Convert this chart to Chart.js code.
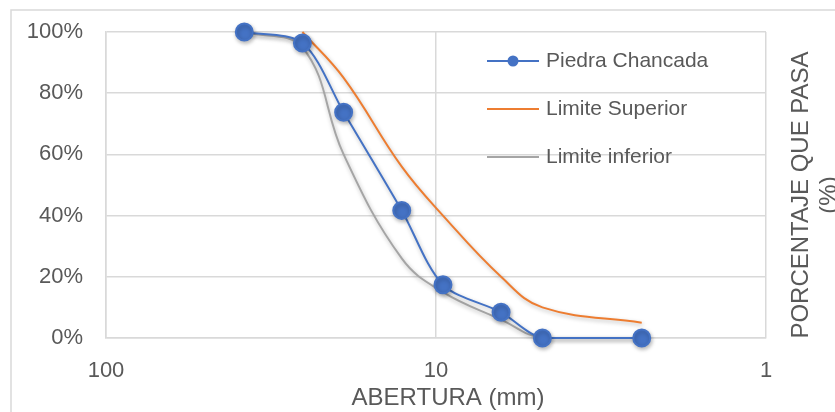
<!DOCTYPE html>
<html>
<head>
<meta charset="utf-8">
<script src="https://cdn.jsdelivr.net/npm/chart.js@4/dist/chart.umd.min.js"></script>
<style>
  body { margin: 0; background: #ffffff; overflow: hidden; }
  #wrap { position: relative; width: 835px; height: 412px; }
</style>
</head>
<body>
<div id="wrap"><canvas id="granuloChart"></canvas></div>
<script>
// Sieve openings (mm) and percent passing
const aberturas = [38.1, 25.4, 19.05, 12.7, 9.525, 6.35, 4.76, 2.38];
const piedraChancada = [100, 96.4, 73.8, 41.7, 17.4, 8.4, 0, 0];
const aberturasSup = [25.4, 19.05, 12.7, 9.525, 6.35, 4.76, 2.38];
const limiteSuperior = [100, 85, 56, 40, 20, 10, 5];
const limiteInferior = [100, 95, 60, 26, 15, 6, 0, 0];
const xTicks = [100, 10, 1];
const yTicks = [0, 20, 40, 60, 80, 100];

const textColor = "#595959";
const gridColor = "#d9d9d9";
const fontFamily = "'Liberation Sans', Arial, sans-serif";

function toPoints(xs, ys) {
  return xs.map((x, i) => ({ x: x, y: ys[i] }));
}

// outer frame, axis titles and in-plot legend
const decorPlugin = {
  id: "decor",
  beforeDraw(chart) {
    const ctx = chart.ctx;
    ctx.save();
    ctx.strokeStyle = gridColor;
    ctx.lineWidth = 1.5;
    ctx.strokeRect(11, 10, 1000, 1000);
    ctx.restore();
  },
  beforeDatasetsDraw(chart) {
    const ctx = chart.ctx;
    ctx.save();
    ctx.shadowColor = "rgba(0,0,0,0.28)";
    ctx.shadowBlur = 4;
    ctx.shadowOffsetX = 1;
    ctx.shadowOffsetY = 2;
  },
  afterDatasetsDraw(chart) {
    chart.ctx.restore();
  },
  afterDraw(chart) {
    const ctx = chart.ctx;
    ctx.save();
    ctx.fillStyle = textColor;
    ctx.font = "24px " + fontFamily;
    ctx.textAlign = "center";
    ctx.textBaseline = "middle";
    ctx.fillText("ABERTURA (mm)", 448, 398);
    ctx.translate(801, 195);
    ctx.rotate(-Math.PI / 2);
    ctx.fillText("PORCENTAJE QUE PASA", 0, 0);
    ctx.fillText("(%)", 0, 28);
    ctx.restore();

    // legend
    ctx.save();
    ctx.font = "21px " + fontFamily;
    ctx.textAlign = "left";
    ctx.textBaseline = "middle";
    chart.data.datasets.forEach((ds, i) => {
      const y = 61 + i * 48;
      ctx.strokeStyle = ds.borderColor;
      ctx.lineWidth = 2;
      ctx.beginPath();
      ctx.moveTo(487, y);
      ctx.lineTo(539, y);
      ctx.stroke();
      if (ds.pointRadius > 0) {
        ctx.fillStyle = ds.pointBackgroundColor;
        ctx.beginPath();
        ctx.arc(513, y, 5.5, 0, Math.PI * 2);
        ctx.fill();
      }
      ctx.fillStyle = textColor;
      ctx.fillText(ds.label, 546, y);
    });
    ctx.restore();
  },
};

const ctx = document.getElementById("granuloChart").getContext("2d");

new Chart(ctx, {
  type: "line",
  data: {
    datasets: [
      {
        label: "Piedra Chancada",
        data: toPoints(aberturas, piedraChancada),
        borderColor: "#4472C4",
        backgroundColor: "#4472C4",
        pointBackgroundColor: "#4472C4",
        pointBorderColor: "#4472C4",
        pointRadius: 8.5,
        borderWidth: 2,
        tension: 0.3,
        clip: false,
        order: 0,
      },
      {
        label: "Limite Superior",
        data: toPoints(aberturasSup, limiteSuperior),
        borderColor: "#ED7D31",
        backgroundColor: "#ED7D31",
        pointRadius: 0,
        borderWidth: 2,
        tension: 0.4,
        clip: false,
        order: 1,
      },
      {
        label: "Limite inferior",
        data: toPoints(aberturas, limiteInferior),
        borderColor: "#A5A5A5",
        backgroundColor: "#A5A5A5",
        pointRadius: 0,
        borderWidth: 2,
        tension: 0.4,
        clip: false,
        order: 2,
      },
    ],
  },
  options: {
    responsive: true,
    maintainAspectRatio: false,
    animation: false,
    layout: { padding: { top: 32, right: 69, bottom: 0, left: 0 } },
    plugins: {
      legend: { display: false },
      tooltip: { enabled: false },
    },
    scales: {
      x: {
        type: "logarithmic",
        min: 1,
        max: 100,
        reverse: true,
        afterBuildTicks: function (scale) {
          scale.ticks = xTicks.map((v) => ({ value: v }));
        },
        afterFit: function (scale) {
          scale.height = 74;
        },
        ticks: {
          color: textColor,
          font: { family: fontFamily, size: 22 },
          padding: 20,
          maxRotation: 0,
          callback: function (value) {
            return String(value);
          },
        },
        grid: { color: gridColor, lineWidth: 1.5, drawTicks: false },
        border: { color: gridColor, width: 1.5 },
      },
      y: {
        min: 0,
        max: 100,
        afterBuildTicks: function (scale) {
          scale.ticks = yTicks.map((v) => ({ value: v }));
        },
        afterFit: function (scale) {
          scale.width = 106;
          scale.paddingTop = 0;
          scale.paddingBottom = 0;
        },
        ticks: {
          color: textColor,
          font: { family: fontFamily, size: 22 },
          padding: 23,
          callback: function (value) {
            return value + "%";
          },
        },
        grid: { color: gridColor, lineWidth: 1.5, drawTicks: false },
        border: { color: gridColor, width: 1.5 },
      },
    },
  },
  plugins: [decorPlugin],
});
</script>
</body>
</html>
